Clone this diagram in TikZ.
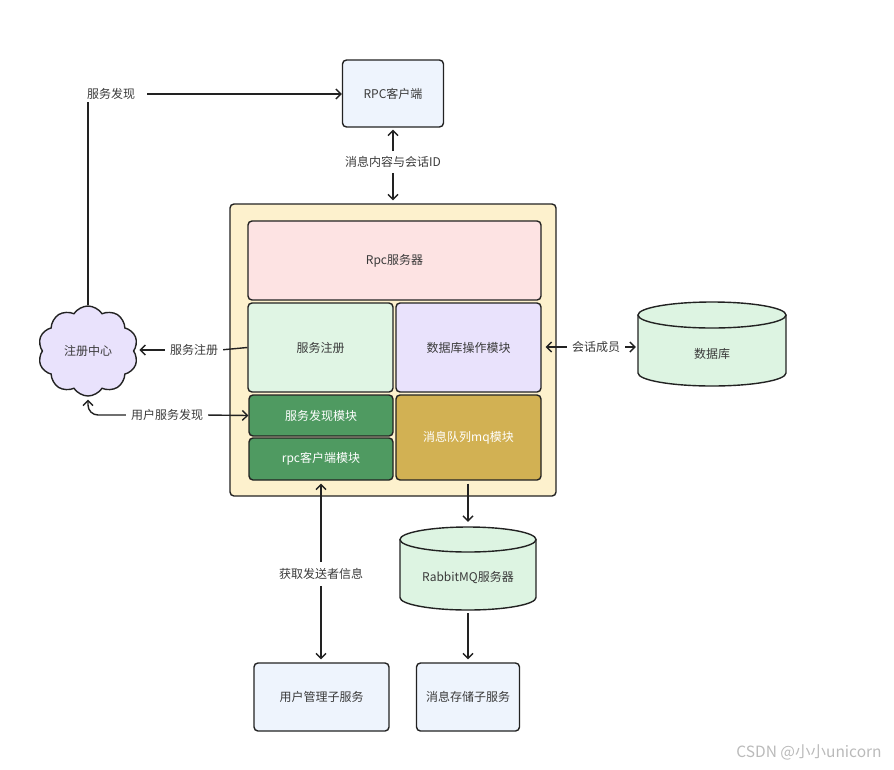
\documentclass[tikz,border=0pt]{standalone}
\usepackage{fontspec}
\setmainfont{Noto Sans CJK SC}
\usetikzlibrary{arrows.meta,shapes.symbols}
\definecolor{cblue}{HTML}{EEF4FD}
\definecolor{cyel}{HTML}{FDF1CD}
\definecolor{cpink}{HTML}{FDE3E3}
\definecolor{clgreen}{HTML}{E0F5E4}
\definecolor{clav}{HTML}{E9E2FC}
\definecolor{cgreen}{HTML}{4F9A61}
\definecolor{cgold}{HTML}{D2B153}
\definecolor{ccyl}{HTML}{DDF4E2}
\definecolor{cline}{HTML}{222222}
\definecolor{ctext}{HTML}{3A3A3A}
\begin{document}
\begin{tikzpicture}[x=1pt,y=-1pt,
  bx/.style={draw=cline, line width=1.4pt, rounded corners=4pt, inner sep=0pt, text=ctext, font=\fontsize{12}{14}\selectfont},
  wbx/.style={bx, text=white},
  lbl/.style={text=ctext, inner sep=2pt, font=\fontsize{12}{14}\selectfont},
  cylbox/.style={inner sep=0pt},
  cyldraw/.style={draw=cline, line width=1.4pt, fill=ccyl},
  arr/.style={draw=cline, line width=1.4pt, -{Straight Barb[length=5pt,width=10pt]}},
  ln/.style={draw=cline, line width=1.4pt}
]
\useasboundingbox (0,0) rectangle (894,769);

% boxes
\node[bx, fill=cblue, minimum width=101pt, minimum height=67pt] (rpc) at (393,93.5) {RPC客户端};
\node[bx, fill=cyel, minimum width=326pt, minimum height=292pt] (outer) at (393,350) {};
\node[bx, fill=cpink, minimum width=293pt, minimum height=79pt] (rpcs) at (394.5,260.5) {Rpc服务器};
\node[bx, fill=clgreen, minimum width=145pt, minimum height=89pt] (reg) at (320.5,347.5) {服务注册};
\node[bx, fill=clav, minimum width=145pt, minimum height=89pt] (dbop) at (468.5,347.5) {数据库操作模块};
\node[wbx, fill=cgreen, minimum width=144pt, minimum height=41pt] (disc) at (321,415.5) {服务发现模块};
\node[wbx, fill=cgreen, minimum width=144pt, minimum height=42pt] (rpccli) at (321,459) {rpc客户端模块};
\node[wbx, fill=cgold, minimum width=145pt, minimum height=85pt] (mq) at (468.5,437.5) {消息队列mq模块};
\node[draw=cline, line width=1.4pt, cloud, cloud puffs=10, cloud puff arc=115, aspect=1.1, fill=clav, text=ctext, inner sep=0pt, minimum width=100pt, minimum height=90pt, font=\fontsize{12}{14}\selectfont] (cloud) at (88,351) {注册中心};

% database cylinder
\draw[cyldraw] (638,315) -- (638,373) arc[start angle=180, end angle=0, x radius=74, y radius=13] -- (786,315);
\draw[cyldraw] (712,315) ellipse[x radius=74, y radius=13];
\node[cylbox, minimum width=148pt, minimum height=84pt, label={[lbl, yshift=-10pt]center:数据库}] (db) at (712,344) {};

% RabbitMQ cylinder
\draw[cyldraw] (400,539.5) -- (400,597.5) arc[start angle=180, end angle=0, x radius=68, y radius=12.5] -- (536,539.5);
\draw[cyldraw] (468,539.5) ellipse[x radius=68, y radius=12.5];
\node[cylbox, minimum width=136pt, minimum height=84pt, label={[lbl, yshift=-10pt]center:RabbitMQ服务器}] (rabbit) at (468,568) {};

\node[bx, fill=cblue, minimum width=135pt, minimum height=68pt] (user) at (321.5,697) {用户管理子服务};
\node[bx, fill=cblue, minimum width=103pt, minimum height=68pt] (store) at (468,697) {消息存储子服务};

% labels
\node[lbl] (l1) at (111,94) {服务发现};
\node[lbl] (l2) at (393,162) {消息内容与会话ID};
\node[lbl] (l3) at (194,350) {服务注册};
\node[lbl] (l4) at (167,415) {用户服务发现};
\node[lbl] (l5) at (596,347) {会话成员};
\node[lbl] (l6) at (321,574) {获取发送者信息};

% connectors
\draw[arr, shorten <=10pt] (l1.east) -- (rpc.west |- l1.east);
\draw[ln] (cloud.north) -- (cloud.north |- l1.south);
\draw[arr, shorten <=3pt, shorten >=2pt] (l2.north) -- (rpc.south);
\draw[arr, shorten <=3pt, shorten >=3pt] (l2.south) -- (outer.north);
\draw[ln, shorten >=3pt] (reg.west) -- (l3.east);
\draw[arr, shorten <=3pt, shorten >=5pt] (l3.west) -- (cloud.east |- l3.west);
\draw[arr, shorten <=3pt] (l4.east) -- (disc.west);
\draw[arr, rounded corners=10pt, shorten <=3pt, shorten >=3pt] (l4.west) -| (cloud.south);
\draw[arr, shorten <=3pt, shorten >=4pt] (l5.west) -- (dbop.east |- l5.west);
\draw[arr, shorten <=3pt, shorten >=2pt] (l5.east) -- (db.west |- l5.east);
\draw[arr, shorten <=3pt, shorten >=4pt] (mq.south -| rabbit.north) -- (rabbit.north);
\draw[arr, shorten <=3pt, shorten >=3pt] (rabbit.south) -- (store.north);
\draw[arr, shorten <=4pt, shorten >=3pt] (l6.north) -- (rpccli.south -| l6.north);
\draw[arr, shorten <=4pt, shorten >=3pt] (l6.south) -- (user.north -| l6.south);

\node[text=black!27, inner sep=0pt, font=\fontsize{15.5}{17}\selectfont] (wm) at (809,752) {CSDN @小小unicorn};
\end{tikzpicture}
\end{document}
